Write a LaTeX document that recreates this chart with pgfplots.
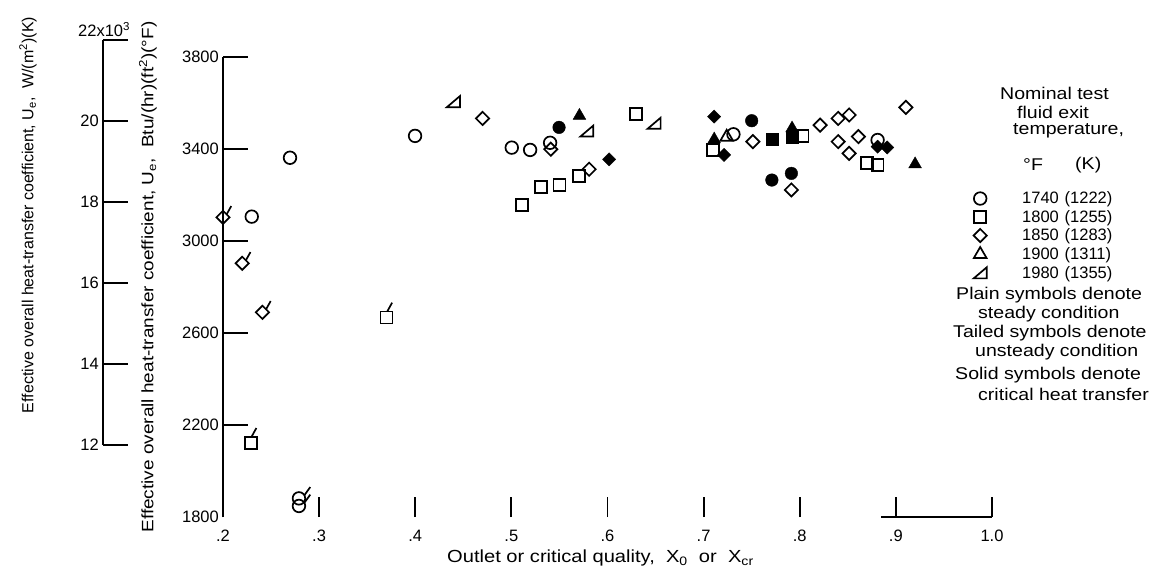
\documentclass[border=0pt]{standalone}
\usepackage{fontspec}
\setmainfont{Liberation Sans}
\newfontfamily\wide{Liberation Sans}[FakeStretch=1.15]
\usepackage{pgfplots}
\pgfplotsset{compat=1.18}

\newcommand\fs{\fontsize{16.5}{19}\selectfont}
\newcommand\fw{\wide\fontsize{17}{19}\selectfont}
\newcommand\fx{\wide\fontsize{17.5}{20}\selectfont}

% tailed circle
\pgfdeclareplotmark{tcircle}{%
  \pgfpathcircle{\pgfpointorigin}{\pgfplotmarksize}%
  \pgfusepathqstroke
  \pgfpathmoveto{\pgfqpoint{0.866\pgfplotmarksize}{0.5\pgfplotmarksize}}%
  \pgfpathlineto{\pgfqpoint{1.8\pgfplotmarksize}{1.8\pgfplotmarksize}}%
  \pgfusepathqstroke}
% tailed square
\pgfdeclareplotmark{tsquare}{%
  \pgfpathrectangle{\pgfqpoint{-\pgfplotmarksize}{-\pgfplotmarksize}}{\pgfqpoint{2\pgfplotmarksize}{2\pgfplotmarksize}}%
  \pgfusepathqstroke
  \pgfpathmoveto{\pgfqpoint{0.15\pgfplotmarksize}{\pgfplotmarksize}}%
  \pgfpathlineto{\pgfqpoint{0.95\pgfplotmarksize}{2.45\pgfplotmarksize}}%
  \pgfusepathqstroke}
% square diamond
\pgfdeclareplotmark{sdiamond}{%
  \pgfpathmoveto{\pgfqpoint{0pt}{\pgfplotmarksize}}%
  \pgfpathlineto{\pgfqpoint{\pgfplotmarksize}{0pt}}%
  \pgfpathlineto{\pgfqpoint{0pt}{-\pgfplotmarksize}}%
  \pgfpathlineto{\pgfqpoint{-\pgfplotmarksize}{0pt}}%
  \pgfpathclose
  \pgfusepathqstroke}
\pgfdeclareplotmark{sdiamond*}{%
  \pgfpathmoveto{\pgfqpoint{0pt}{\pgfplotmarksize}}%
  \pgfpathlineto{\pgfqpoint{\pgfplotmarksize}{0pt}}%
  \pgfpathlineto{\pgfqpoint{0pt}{-\pgfplotmarksize}}%
  \pgfpathlineto{\pgfqpoint{-\pgfplotmarksize}{0pt}}%
  \pgfpathclose
  \pgfusepathqfillstroke}
% tailed diamond
\pgfdeclareplotmark{tdiamond}{%
  \pgfpathmoveto{\pgfqpoint{0pt}{\pgfplotmarksize}}%
  \pgfpathlineto{\pgfqpoint{\pgfplotmarksize}{0pt}}%
  \pgfpathlineto{\pgfqpoint{0pt}{-\pgfplotmarksize}}%
  \pgfpathlineto{\pgfqpoint{-\pgfplotmarksize}{0pt}}%
  \pgfpathclose
  \pgfusepathqstroke
  \pgfpathmoveto{\pgfqpoint{0.55\pgfplotmarksize}{0.45\pgfplotmarksize}}%
  \pgfpathlineto{\pgfqpoint{1.25\pgfplotmarksize}{1.7\pgfplotmarksize}}%
  \pgfusepathqstroke}
% right triangle (1980)
\pgfdeclareplotmark{rtri}{%
  \pgfpathmoveto{\pgfqpoint{-\pgfplotmarksize}{-0.85\pgfplotmarksize}}%
  \pgfpathlineto{\pgfqpoint{\pgfplotmarksize}{-0.85\pgfplotmarksize}}%
  \pgfpathlineto{\pgfqpoint{\pgfplotmarksize}{0.85\pgfplotmarksize}}%
  \pgfpathclose
  \pgfusepathqstroke}

\pgfplotsset{
  mk/.style={only marks, mark options={solid, draw=black, line width=1.7pt}},
  oc/.style={mk, mark=o, mark size=6.3pt},
  fc/.style={mk, mark=*, mark size=6.3pt, mark options={fill=black}},
  tc/.style={mk, mark=tcircle, mark size=6.3pt},
  os/.style={mk, mark=square, mark size=6pt},
  fs/.style={mk, mark=square*, mark size=6pt, mark options={fill=black}},
  ts/.style={mk, mark=tsquare, mark size=6pt},
  od/.style={mk, mark=sdiamond, mark size=6.6pt},
  fd/.style={mk, mark=sdiamond*, mark size=6.6pt, mark options={fill=black}},
  td/.style={mk, mark=tdiamond, mark size=6.6pt},
  ot/.style={mk, mark=triangle, mark size=7.3pt},
  ft/.style={mk, mark=triangle*, mark size=7.3pt, mark options={fill=black}},
  rt/.style={mk, mark=rtri, mark size=6.5pt},
}

\begin{document}
\begin{tikzpicture}[x=1pt,y=1pt]
\path[use as bounding box] (0,0) rectangle (1157,-573);

% ---------- secondary (SI) axis ----------
\begin{axis}[
  scale only axis, width=10pt, height=405.1pt,
  at={(103pt,-444.9pt)}, anchor=south west,
  xmin=0, xmax=1, ymin=12, ymax=22,
  axis x line=none, axis y line*=left,
  ytick={12,14,16,18,20,22}, yticklabels={12,14,16,18,20,{}},
  tick align=inside, major tick length=25pt,
  axis line style={line width=1.8pt},
  tick style={line width=1.8pt, color=black},
  yticklabel style={font=\fs, inner sep=1pt, xshift=-3pt},
  clip=false,
]
\node[anchor=base west, font=\fs, inner sep=0pt, xshift=-25pt, yshift=3pt] at (axis cs:0,22) {22x10\textsuperscript{3}};
\end{axis}

% ---------- x tick overlay ----------
\begin{axis}[
  scale only axis, width=769pt, height=460pt,
  at={(223pt,-517pt)}, anchor=south west,
  xmin=0.2, xmax=1.0, ymin=1800, ymax=3800,
  axis y line=none, axis x line*=bottom,
  x axis line style={draw=none},
  xtick={0.2,0.3,0.4,0.5,0.6,0.7,0.8,0.9,1.0},
  xticklabels={.2,.3,.4,.5,.6,.7,.8,.9,1.0},
  tick align=inside, major tick length=20pt,
  tick style={line width=1.8pt, color=black},
  xticklabel style={font=\fs, inner sep=1pt, yshift=-12pt},
  clip=false,
]
\addplot[line width=1.8pt, no marks] coordinates {(0.885,1800) (1.0,1800)};
\end{axis}

% ---------- main axis with data ----------
\begin{axis}[
  scale only axis, width=769pt, height=460pt,
  at={(223pt,-517pt)}, anchor=south west,
  xmin=0.2, xmax=1.0, ymin=1800, ymax=3800,
  axis x line=none, axis y line*=left,
  ytick={2200,2600,3000,3400,3800},
  extra y ticks={1800}, extra y tick style={major tick length=0pt},
  tick align=inside, major tick length=25pt,
  axis line style={line width=1.8pt},
  tick style={line width=1.8pt, color=black},
  yticklabel style={font=\fs, inner sep=1pt, xshift=-3pt},
  /pgf/number format/assume math mode=true,
  /pgf/number format/1000 sep={},
  clip=false,
  legend style={at={(axis description cs:0.9727,0.708)}, anchor=north west,
    draw=none, fill=none, font=\fs, row sep=4.5pt, inner sep=0pt,
    nodes={inner sep=0pt}},
  legend cell align=left,
  legend image code/.code={\path[draw=none,fill=none] (-9pt,-7pt) rectangle (42pt,7pt);\draw[#1] plot coordinates {(0pt,0pt)};},
]
% 1740 F
\addplot[oc, forget plot] coordinates {(0.2697,3362) (0.2299,3106) (0.3998,3457) (0.5004,3406) (0.5195,3396) (0.5403,3427) (0.731,3464) (0.881,3439)};
\addplot[tc, forget plot] coordinates {(0.279,1881) (0.279,1848)};
\addplot[fc, forget plot] coordinates {(0.5496,3494) (0.750,3523) (0.771,3265) (0.7913,3294)};
% 1800 F
\addplot[os, forget plot] coordinates {(0.5108,3157) (0.5306,3234) (0.550,3242) (0.5705,3283) (0.6298,3552) (0.7096,3396) (0.8029,3457) (0.8698,3338) (0.881,3330)};
\addplot[ts, forget plot] coordinates {(0.370,2668) (0.2288,2123)};
\addplot[fs, forget plot] coordinates {(0.771,3442) (0.792,3450)};
% 1850 F
\addplot[od, forget plot] coordinates {(0.470,3533) (0.541,3399) (0.5809,3312) (0.7512,3432) (0.7913,3222) (0.8212,3504) (0.840,3533) (0.8514,3548) (0.840,3432) (0.861,3454) (0.8514,3381) (0.9104,3581)};
\addplot[td, forget plot] coordinates {(0.200,3103) (0.220,2903) (0.241,2690)};
\addplot[fd, forget plot] coordinates {(0.6017,3355) (0.7109,3541) (0.7213,3374) (0.881,3410) (0.891,3407)};
% 1900 F
\addplot[ot, forget plot] coordinates {(0.724,3452)};
\addplot[ft, forget plot] coordinates {(0.5708,3545) (0.711,3442) (0.792,3490) (0.920,3334)};
% 1980 F
\addplot[rt, forget plot] coordinates {(0.4397,3606) (0.5785,3478) (0.6485,3512)};

\addlegendimage{oc}\addlegendentry{1740\hspace{0.35em}(1222)}
\addlegendimage{os}\addlegendentry{1800\hspace{0.35em}(1255)}
\addlegendimage{od}\addlegendentry{1850\hspace{0.35em}(1283)}
\addlegendimage{ot}\addlegendentry{1900\hspace{0.35em}(1311)}
\addlegendimage{rt}\addlegendentry{1980\hspace{0.35em}(1355)}
\end{axis}

% ---------- text ----------
\node[rotate=90, font=\fontsize{16}{19}\selectfont] at (28,-215) {Effective overall heat-transfer coefficient, U\textsubscript{e},\ \ W/(m\textsuperscript{2})(K)};
\node[rotate=90, font=\wide\fontsize{16.5}{19}\selectfont] at (148,-277) {Effective overall heat-transfer coefficient, U\textsubscript{e},\ \ Btu/(hr)(ft\textsuperscript{2})(°F)};
\node[font=\fx, anchor=west, inner sep=0pt] at (447,-558) {Outlet or critical quality,\ \ X\textsubscript{0}\ \ or\ \ X\textsubscript{cr}};

\begin{scope}[every node/.style={font=\fw, anchor=west, inner sep=0pt}]
\node at (1000,-93) {Nominal test};
\node at (1017,-112) {fluid exit};
\node at (1013,-131) {temperature,};
\node at (1023,-165) {°F};
\node at (1075,-165) {(K)};
\node at (956,-295) {Plain symbols denote};
\node at (978,-314) {steady condition};
\node at (953,-333) {Tailed symbols denote};
\node at (975,-352) {unsteady condition};
\node at (955,-375) {Solid symbols denote};
\node at (978,-394) {critical heat transfer};
\end{scope}
\end{tikzpicture}
\end{document}
